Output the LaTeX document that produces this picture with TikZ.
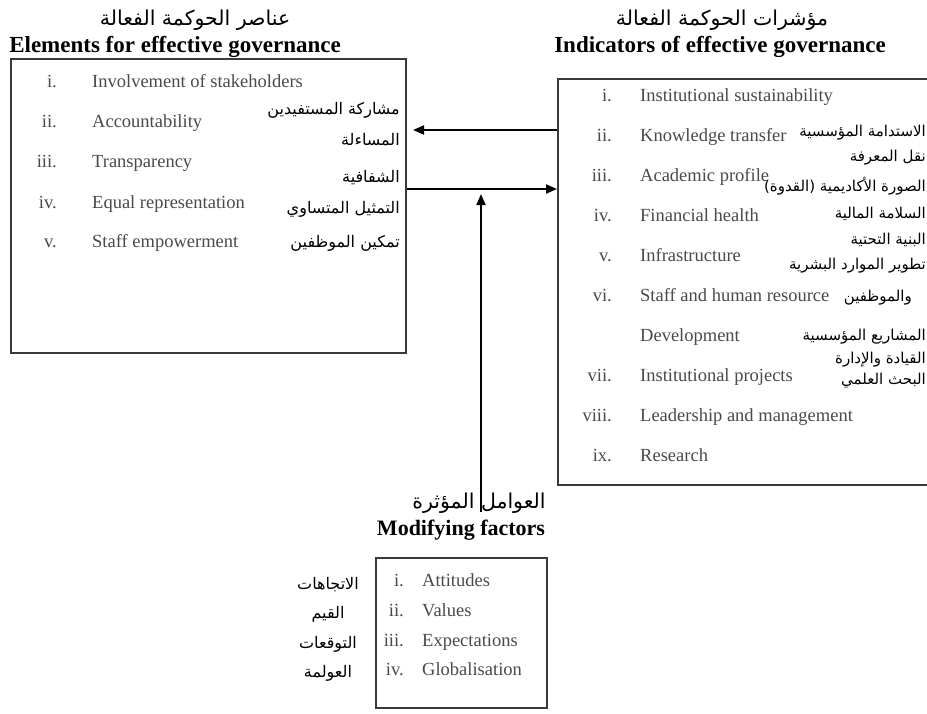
\documentclass[tikz,border=0pt]{standalone}
\usepackage{fontspec}
\setmainfont{Liberation Serif}
\newfontfamily\arabicfont[Script=Arabic]{DejaVu Sans}
\TeXXeTstate=1
\usetikzlibrary{arrows.meta}

\definecolor{framegray}{HTML}{3A3A3A}
\definecolor{itemgray}{HTML}{4A4A4A}

% right-to-left Arabic run
\newcommand\artxt[1]{{\arabicfont\beginR #1\endR}}

\tikzset{
  frame/.style={draw=framegray, line width=1.8pt, fill=none, inner sep=0pt, anchor=north west},
  item/.style={font=\fontsize{18.5}{20}\selectfont, text=itemgray, inner sep=0pt,
               anchor=west, text height=13pt, text depth=4pt},
  num/.style={item, anchor=east},
  artext/.style={font=\arabicfont\fontsize{16}{18}\selectfont, inner sep=0pt, anchor=east},
  arright/.style={artext, font=\arabicfont\fontsize{15}{17}\selectfont},
  arcentre/.style={artext, anchor=center},
  entitle/.style={font=\bfseries\fontsize{23}{25}\selectfont, inner sep=0pt},
  artitle/.style={font=\arabicfont\fontsize{20.5}{22}\selectfont, inner sep=0pt},
  arr/.style={draw=black, line width=2pt, -{Triangle[length=11pt,width=9pt]}}
}

\begin{document}
\begin{tikzpicture}[x=1pt,y=-1pt]
\fill[white] (0,0) rectangle (927,713);
\useasboundingbox (0,0) rectangle (927,713);

% ---------- left block: elements ----------
\node[artitle] (Lar) at (195,20) {\artxt{عناصر الحوكمة الفعالة}};
\node[entitle] (Len) at (175,47) {Elements for effective governance};
\node[frame, minimum width=395pt, minimum height=294pt] (L) at (10,58) {};

\foreach \n/\t/\y [count=\k] in {i./Involvement of stakeholders/83,
    ii./Accountability/123, iii./Transparency/163,
    iv./Equal representation/204, v./Staff empowerment/243}{
  \node[num]  (Ln\k) at (57,\y) {\n};
  \node[item] (Lt\k) at (92,\y) {\t};
}

\node[artext] (La1) at (400,110) {\artxt{مشاركة المستفيدين}};
\node[artext] (La2) at (400,140) {\artxt{المساءلة}};
\node[artext] (La3) at (400,178) {\artxt{الشفافية}};
\node[artext] (La4) at (400,209) {\artxt{التمثيل المتساوي}};
\node[artext] (La5) at (400,243) {\artxt{تمكين الموظفين}};

% ---------- right block: indicators ----------
\node[artitle] (Rar) at (722,20) {\artxt{مؤشرات الحوكمة الفعالة}};
\node[entitle] (Ren) at (720,47) {Indicators of effective governance};
\node[frame, minimum width=373pt, minimum height=406pt] (R) at (557,78) {};

\foreach \n/\t/\y [count=\k] in {i./Institutional sustainability/97,
    ii./Knowledge transfer/137, iii./Academic profile/177,
    iv./Financial health/217, v./Infrastructure/257,
    vi./Staff and human resource/297, /Development/337,
    vii./Institutional projects/377, viii./Leadership and management/417,
    ix./Research/457}{
  \node[num]  (Rn\k) at (612,\y) {\n};
  \node[item] (Rt\k) at (640,\y) {\t};
}

\node[arright] (Ra1)  at (926,133) {\artxt{الاستدامة المؤسسية}};
\node[arright] (Ra2)  at (926,158) {\artxt{نقل المعرفة}};
\node[arright] (Ra3)  at (926,186) {\artxt{الصورة الأكاديمية (القدوة)}};
\node[arright] (Ra4)  at (926,214) {\artxt{السلامة المالية}};
\node[arright] (Ra5)  at (926,240) {\artxt{البنية التحتية}};
\node[arright] (Ra6)  at (926,266) {\artxt{تطوير الموارد البشرية}};
\node[arright] (Ra7)  at (912,298) {\artxt{والموظفين}};
\node[arright] (Ra8)  at (926,337) {\artxt{المشاريع المؤسسية}};
\node[arright] (Ra9)  at (926,360) {\artxt{القيادة والإدارة}};
\node[arright] (Ra10) at (926,381) {\artxt{البحث العلمي}};

% ---------- bottom block: modifying factors ----------
\node[artitle] (Bar) at (479,503) {\artxt{العوامل المؤثرة}};
\node[entitle, font=\bfseries\fontsize{22}{24}\selectfont] (Ben) at (461,530) {Modifying factors};
\node[frame, minimum width=171pt, minimum height=150pt] (B) at (375,557) {};

\foreach \n/\t/\y [count=\k] in {i./Attitudes/582, ii./Values/612,
    iii./Expectations/642, iv./Globalisation/671}{
  \node[num]  (Bn\k) at (404,\y) {\n};
  \node[item] (Bt\k) at (422,\y) {\t};
}

\node[arcentre] (Ba1) at (328,585) {\artxt{الاتجاهات}};
\node[arcentre] (Ba2) at (328,614) {\artxt{القيم}};
\node[arcentre] (Ba3) at (328,644) {\artxt{التوقعات}};
\node[arcentre] (Ba4) at (328,673) {\artxt{العولمة}};

% ---------- connectors ----------
\coordinate (feedback) at (413,130);
\coordinate (rowfwd)   at (0,189);
\coordinate (modtop)   at (481,194);
\coordinate (modfoot)  at (481,512);

\draw[arr] (R.west |- feedback) -- (feedback);
\draw[arr] (L.east |- rowfwd) -- (R.west |- rowfwd);
\draw[arr] (modfoot) -- (modtop);
\end{tikzpicture}
\end{document}
